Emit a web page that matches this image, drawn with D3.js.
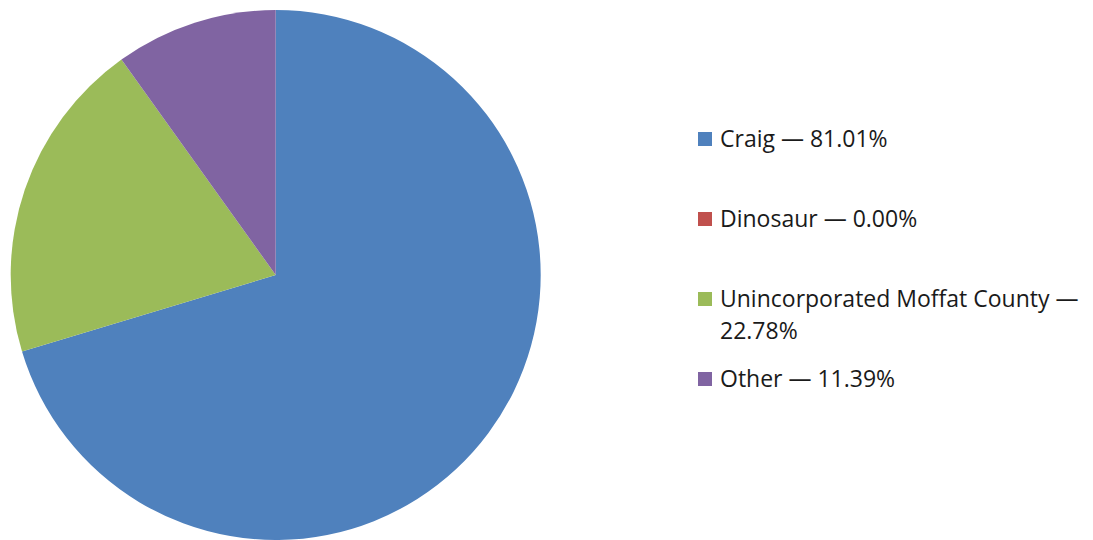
<!DOCTYPE html>
<html><head><meta charset="utf-8">
<script src="https://cdn.jsdelivr.net/npm/d3@7"></script>
<style>body{margin:0;background:#fff}svg{display:block}</style>
</head><body>
<script>
const categories = ["Craig", "Dinosaur", "Unincorporated Moffat County", "Other"];
const values = [81.01, 0.00, 22.78, 11.39];
const colors = ["#4F81BD", "#C0504D", "#9BBB59", "#8064A2"];
const legendLines = [["Craig — 81.01%"], ["Dinosaur — 0.00%"], ["Unincorporated Moffat County —", "22.78%"], ["Other — 11.39%"]];

const W = 1093, H = 540;
const svg = d3.select("body").append("svg").attr("width", W).attr("height", H);
const cx = 275.7, cy = 275, r = 265;
const pie = d3.pie().sort(null).value(d => d)(values);
const arc = d3.arc().innerRadius(0).outerRadius(r);
svg.append("g").attr("transform", `translate(${cx},${cy})`)
  .selectAll("path").data(pie).join("path")
  .attr("d", arc).attr("fill", (d, i) => colors[i]);

const rowY = [147, 227, 307, 387];
const lg = svg.append("g").style("font-family", "'Open Sans', sans-serif").style("font-size", "23px").attr("fill", "#1a1a1a");
categories.forEach((c, i) => {
  lg.append("rect").attr("x", 698).attr("y", rowY[i] - 15).attr("width", 14).attr("height", 14).attr("fill", colors[i]);
  const t = lg.append("text").attr("x", 720).attr("y", rowY[i]);
  legendLines[i].forEach((s, j) => t.append("tspan").attr("x", 720).attr("dy", j ? 32 : 0).text(s));
});
</script>
</body></html>
